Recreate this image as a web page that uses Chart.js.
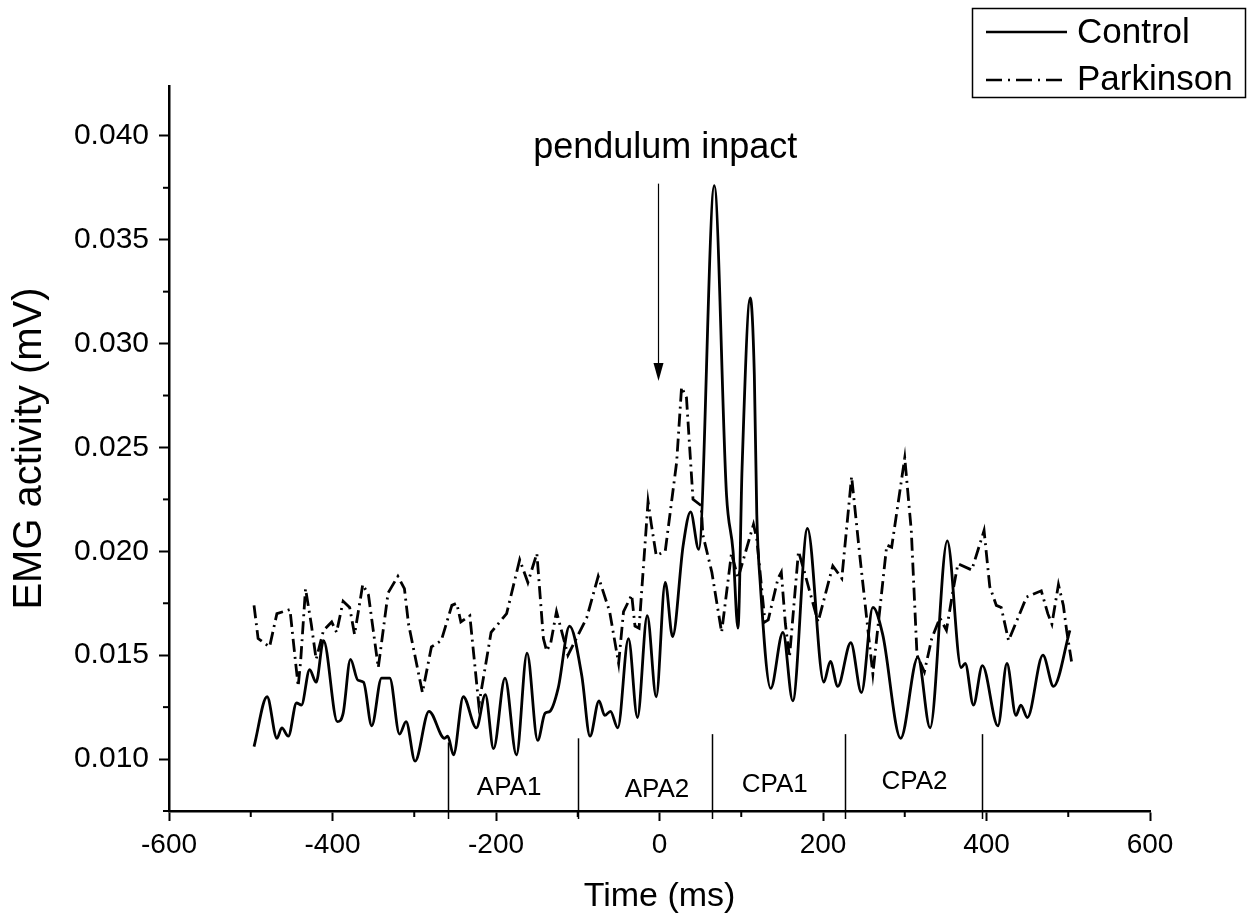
<!DOCTYPE html>
<html>
<head>
<meta charset="utf-8">
<title>EMG activity</title>
<script src="https://cdn.jsdelivr.net/npm/chart.js@4.4.1/dist/chart.umd.min.js"></script>
<style>
  html, body { margin: 0; padding: 0; background: #fff; }
  #wrap { width: 1252px; height: 920px; }
</style>
</head>
<body>
<div id="wrap"><canvas id="chart" width="1252" height="920"></canvas></div>
<script>
// Control group, averaged EMG (smooth curve)
const controlTime = [-496,-480,-468,-462,-454,-444,-438,-428,-420,-411,-394,-387,-378,-369,-362,-352,-340,-330,-318,-310,-299,-282,-263,-259,-252,-240,-224,-213,-203,-189,-175,-162,-149,-140,-134,-124,-110,-95,-85,-74,-67,-60,-51,-38,-27,-15,-4,7,16,29,38,48,67,82,90,96,101,111,116,119,123,136,151,163,181,201,209,218,234,247,261,273,295,316,331,352,369,374,384,395,414,425,436,442,450,469,482,502];
const controlEmg = [0.0106,0.0130,0.0110,0.0115,0.0111,0.0127,0.0126,0.0143,0.0137,0.0157,0.0118,0.0122,0.0148,0.0138,0.0137,0.0116,0.0139,0.0139,0.0112,0.0118,0.0099,0.0123,0.0110,0.0111,0.0102,0.0130,0.0115,0.0131,0.0105,0.0139,0.0102,0.0151,0.0109,0.0122,0.0123,0.0134,0.0164,0.0140,0.0111,0.0128,0.0121,0.0123,0.0115,0.0158,0.0120,0.0169,0.0130,0.0185,0.0159,0.0203,0.0219,0.0201,0.0376,0.0227,0.0200,0.0163,0.0240,0.0322,0.0285,0.0218,0.0186,0.0134,0.0161,0.0128,0.0211,0.0137,0.0147,0.0135,0.0156,0.0132,0.0173,0.0160,0.0110,0.0149,0.0115,0.0205,0.0144,0.0146,0.0126,0.0145,0.0116,0.0146,0.0121,0.0126,0.0120,0.0150,0.0135,0.0162];

// Parkinson group (dash-dot, straight segments)
const parkinsonTime = [-496,-491,-477,-468,-452,-448,-442,-439,-433,-426,-420,-411,-401,-395,-387,-379,-373,-363,-356,-344,-332,-320,-312,-307,-290,-279,-267,-254,-248,-243,-232,-221,-206,-187,-171,-161,-150,-142,-138,-133,-126,-112,-89,-75,-61,-50,-44,-34,-30,-25,-14,-10,-4,7,21,27,33,41,51,53,64,76,88,96,115,119,129,133,145,149,154,159,170,178,194,212,223,235,245,257,261,278,284,300,308,315,324,333,343,351,359,365,382,397,404,412,418,427,449,467,475,480,488,494,498,504];
const parkinsonEmg = [0.0174,0.0158,0.0154,0.0170,0.0172,0.0157,0.0135,0.0147,0.0182,0.0165,0.0148,0.0162,0.0166,0.0161,0.0176,0.0173,0.0160,0.0184,0.0179,0.0144,0.0180,0.0188,0.0182,0.0165,0.0132,0.0154,0.0157,0.0174,0.0175,0.0166,0.0169,0.0126,0.0161,0.0170,0.0196,0.0185,0.0199,0.0158,0.0152,0.0156,0.0171,0.0150,0.0168,0.0188,0.0171,0.0146,0.0171,0.0179,0.0164,0.0163,0.0224,0.0213,0.0198,0.0200,0.0243,0.0279,0.0274,0.0225,0.0222,0.0208,0.0190,0.0161,0.0199,0.0187,0.0213,0.0206,0.0166,0.0167,0.0187,0.0190,0.0165,0.0149,0.0200,0.0189,0.0166,0.0193,0.0187,0.0236,0.0198,0.0155,0.0141,0.0203,0.0202,0.0245,0.0210,0.0150,0.0142,0.0158,0.0168,0.0162,0.0181,0.0194,0.0191,0.0210,0.0183,0.0174,0.0173,0.0157,0.0178,0.0181,0.0170,0.0165,0.0184,0.0174,0.0162,0.0147];

const xMinorTicks = [-500, -300, -100, 100, 300, 500];
const yMinorTicks = [0.0075, 0.0125, 0.0175, 0.0225, 0.0275, 0.0325, 0.0375];

// phase boundaries (ms) and the value where each marker line stops
const phaseBounds = [-259, -100, 64, 227, 394];
const phaseTops = [0.0108, 0.0110, 0.0112, 0.0112, 0.0112];
const phaseNames = ['APA1', 'APA2', 'CPA1', 'CPA2'];
const phaseLabelTime = [-184, -3, 141, 312];
const phaseLabelEmg = [0.0086, 0.0085, 0.00875, 0.0089];

const impactText = 'pendulum inpact';
const impactTextAt = [7, 0.0394];
const impactArrow = [-2, 0.0377, 0.0282]; // time, from, to

const legendNames = ['Control', 'Parkinson'];

const FONT = '"Liberation Sans", Arial, sans-serif';
const PARK_DASH = [13, 5, 2, 5];

const toPoints = (xs, ys) => xs.map((t, i) => ({ x: t, y: ys[i] }));

const overlay = {
  id: 'overlay',
  afterDraw(chart) {
    const { ctx, chartArea: a, scales: { x, y } } = chart;
    const seg = (x1, y1, x2, y2) => { ctx.beginPath(); ctx.moveTo(x1, y1); ctx.lineTo(x2, y2); ctx.stroke(); };
    ctx.save();
    ctx.strokeStyle = '#000';
    ctx.fillStyle = '#000';

    // minor ticks
    ctx.lineWidth = 2;
    xMinorTicks.forEach(v => { const px = x.getPixelForValue(v); seg(px, a.bottom, px, a.bottom + 6); });
    yMinorTicks.forEach(v => { const py = y.getPixelForValue(v); seg(a.left - 6, py, a.left, py); });

    // phase markers + labels
    ctx.lineWidth = 1.5;
    phaseBounds.forEach((t, i) => {
      const px = Math.round(x.getPixelForValue(t)) + 0.5;
      seg(px, y.getPixelForValue(phaseTops[i]), px, a.bottom + 8);
    });
    ctx.font = '26px ' + FONT;
    ctx.textAlign = 'center';
    ctx.textBaseline = 'middle';
    phaseNames.forEach((n, i) => ctx.fillText(n, x.getPixelForValue(phaseLabelTime[i]), y.getPixelForValue(phaseLabelEmg[i])));

    // pendulum impact arrow
    ctx.font = '36px ' + FONT;
    ctx.fillText(impactText, x.getPixelForValue(impactTextAt[0]), y.getPixelForValue(impactTextAt[1]));
    const ax = Math.round(x.getPixelForValue(impactArrow[0])) + 0.5;
    const ay1 = y.getPixelForValue(impactArrow[1]);
    const ay2 = y.getPixelForValue(impactArrow[2]);
    ctx.lineWidth = 1.2;
    seg(ax, ay1, ax, ay2 - 14);
    ctx.beginPath();
    ctx.moveTo(ax - 5, ay2 - 18);
    ctx.lineTo(ax + 5, ay2 - 18);
    ctx.lineTo(ax, ay2);
    ctx.closePath();
    ctx.fill();

    // legend
    ctx.lineWidth = 1.5;
    ctx.strokeRect(972.5, 8.5, 273, 89);
    ctx.lineWidth = 2.5;
    seg(986, 32, 1067, 32);
    ctx.setLineDash([16, 6, 2, 6]);
    seg(986, 80, 1067, 80);
    ctx.setLineDash([]);
    ctx.font = '35px ' + FONT;
    ctx.textAlign = 'left';
    ctx.fillText(legendNames[0], 1077, 33);
    ctx.fillText(legendNames[1], 1077, 80);
    ctx.restore();
  }
};

new Chart(document.getElementById('chart'), {
  type: 'line',
  data: {
    datasets: [
      {
        label: legendNames[0],
        data: toPoints(controlTime, controlEmg),
        borderColor: '#000',
        borderWidth: 2.8,
        pointRadius: 0,
        cubicInterpolationMode: 'monotone',
        fill: false
      },
      {
        label: legendNames[1],
        data: toPoints(parkinsonTime, parkinsonEmg),
        borderColor: '#000',
        borderWidth: 2.8,
        borderDash: PARK_DASH,
        pointRadius: 0,
        tension: 0,
        fill: false
      }
    ]
  },
  options: {
    responsive: false,
    animation: false,
    devicePixelRatio: 1,
    layout: { padding: { left: 0, top: 86, right: 102, bottom: 0 } },
    plugins: { legend: { display: false }, tooltip: { enabled: false } },
    scales: {
      x: {
        type: 'linear',
        min: -600,
        max: 600,
        afterFit: s => { s.height = 109; },
        border: { display: true, color: '#000', width: 2.5 },
        grid: { drawOnChartArea: false, drawTicks: true, tickLength: 10, tickWidth: 2, tickColor: '#000' },
        ticks: { stepSize: 200, color: '#000', padding: 7, font: { family: FONT, size: 28 }, maxRotation: 0 },
        title: { display: true, text: 'Time (ms)', color: '#000', font: { family: FONT, size: 34 }, padding: { top: 0, bottom: 3 } }
      },
      y: {
        min: 0.0075,
        max: 0.0424,
        afterFit: s => { s.width = 169; },
        border: { display: true, color: '#000', width: 2.5 },
        grid: { drawOnChartArea: false, drawTicks: true, tickLength: 10, tickWidth: 2, tickColor: '#000' },
        ticks: { stepSize: 0.005, includeBounds: false, color: '#000', padding: 10, font: { family: FONT, size: 30 }, callback: v => v.toFixed(3) },
        title: { display: true, text: 'EMG activity (mV)', color: '#000', font: { family: FONT, size: 40 }, padding: { top: 6, bottom: 0 } }
      }
    }
  },
  plugins: [overlay]
});
</script>
</body>
</html>
